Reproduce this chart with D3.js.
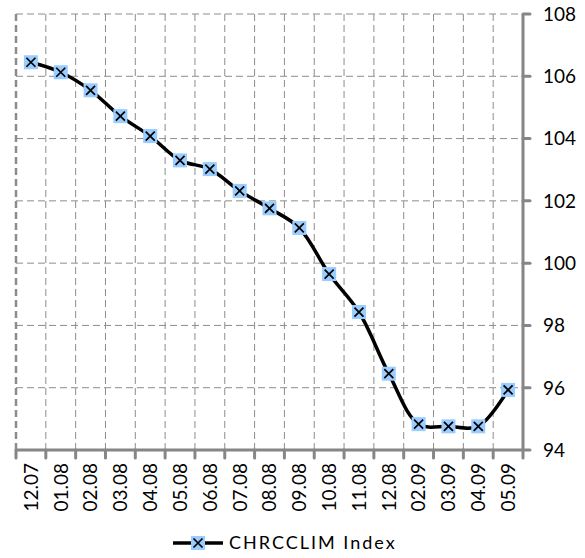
<!DOCTYPE html>
<html><head><meta charset="utf-8">
<script src="https://cdn.jsdelivr.net/npm/d3@7"></script>
<style>body{margin:0;background:#fff}svg{display:block}</style>
</head><body>
<script>
const categories = ["12.07","01.08","02.08","03.08","04.08","05.08","06.08","07.08","08.08","09.08","10.08","11.08","12.08","02.09","03.09","04.09","05.09"];
const values = [106.45,106.13,105.55,104.72,104.08,103.3,103.02,102.32,101.76,101.13,99.65,98.43,96.45,94.83,94.76,94.76,95.93];
const yTicks = [94,96,98,100,102,104,106,108];
const seriesName = "CHRCCLIM Index";

const W = 585, H = 558;
const L = 16, R = 523, T = 14, B = 450;
const font = "Lato, 'Open Sans', sans-serif";
const svg = d3.select("body").append("svg").attr("width", W).attr("height", H);

const x = d3.scaleBand().domain(categories).range([L, R]);
const y = d3.scaleLinear().domain([94,108]).range([B, T]);

// grid
const g = svg.append("g");
g.selectAll(".hg").data(yTicks.filter(t => t > 94)).enter().append("line")
  .attr("x1", L).attr("x2", R).attr("y1", d => y(d)).attr("y2", d => y(d))
  .attr("stroke", "#8c8c8c").attr("stroke-width", 1).attr("stroke-dasharray", "7,4");
const vt = categories.map(c => x(c)).slice(1);
g.selectAll(".vg").data(vt).enter().append("line")
  .attr("x1", d => d).attr("x2", d => d).attr("y1", T).attr("y2", B)
  .attr("stroke", "#8c8c8c").attr("stroke-width", 1).attr("stroke-dasharray", "7,4");
// left border
g.append("line").attr("x1", L).attr("x2", L).attr("y1", T).attr("y2", B)
  .attr("stroke", "#8c8c8c").attr("stroke-width", 2.5).attr("stroke-dasharray", "7,4");

// axes
const ax = svg.append("g");
ax.append("line").attr("x1", L).attr("x2", R).attr("y1", B).attr("y2", B)
  .attr("stroke", "#868686").attr("stroke-width", 3);
ax.append("line").attr("x1", R).attr("x2", R).attr("y1", T).attr("y2", B)
  .attr("stroke", "#868686").attr("stroke-width", 3);
const xt = categories.map(c => x(c)).concat([R]);
ax.selectAll(".xt").data(xt).enter().append("line")
  .attr("x1", d => d).attr("x2", d => d).attr("y1", B).attr("y2", B + 8)
  .attr("stroke", "#868686").attr("stroke-width", 3).attr("stroke-linecap", "round");
ax.selectAll(".yt").data(yTicks).enter().append("line")
  .attr("x1", R).attr("x2", R + 7).attr("y1", d => y(d)).attr("y2", d => y(d))
  .attr("stroke", "#868686").attr("stroke-width", 3).attr("stroke-linecap", "round");

ax.selectAll(".yl").data(yTicks).enter().append("text")
  .attr("x", R + 20).attr("y", d => y(d)).attr("dy", "0.36em")
  .attr("font-family", font).attr("font-size", 19).attr("fill", "#000")
  .text(d => d);

ax.selectAll(".xl").data(categories).enter().append("text")
  .attr("transform", d => `translate(${x(d) + x.bandwidth()/2},${B + 13}) rotate(-90)`)
  .attr("text-anchor", "end").attr("dy", "0.36em")
  .attr("font-family", font).attr("font-size", 19).attr("fill", "#000")
  .text(d => d);

// line
const pts = categories.map((c, i) => [x(c) + x.bandwidth()/2, y(values[i])]);
svg.append("path").attr("d", d3.line().curve(d3.curveCatmullRom.alpha(0.5))(pts))
  .attr("fill", "none").attr("stroke", "#000").attr("stroke-width", 3.5);

function marker(sel, cx, cy) {
  const s = 14, k = 4.5;
  sel.append("rect").attr("x", cx - s/2).attr("y", cy - s/2).attr("width", s).attr("height", s).attr("fill", "#99ccff");
  sel.append("path").attr("d", `M${cx-k},${cy-k}L${cx+k},${cy+k}M${cx-k},${cy+k}L${cx+k},${cy-k}`)
    .attr("stroke", "#000").attr("stroke-width", 1.7);
}
const mg = svg.append("g");
pts.forEach(p => marker(mg, p[0], p[1]));

// legend
const ly = 543;
svg.append("line").attr("x1", 173).attr("x2", 223).attr("y1", ly).attr("y2", ly)
  .attr("stroke", "#000").attr("stroke-width", 3.5);
marker(svg, 198, ly);
svg.append("text").attr("x", 229).attr("y", ly).attr("dy", "0.36em")
  .attr("font-family", font).attr("font-size", 18).attr("fill", "#000")
  .attr("letter-spacing", "2px")
  .text(seriesName);
</script>
</body></html>
